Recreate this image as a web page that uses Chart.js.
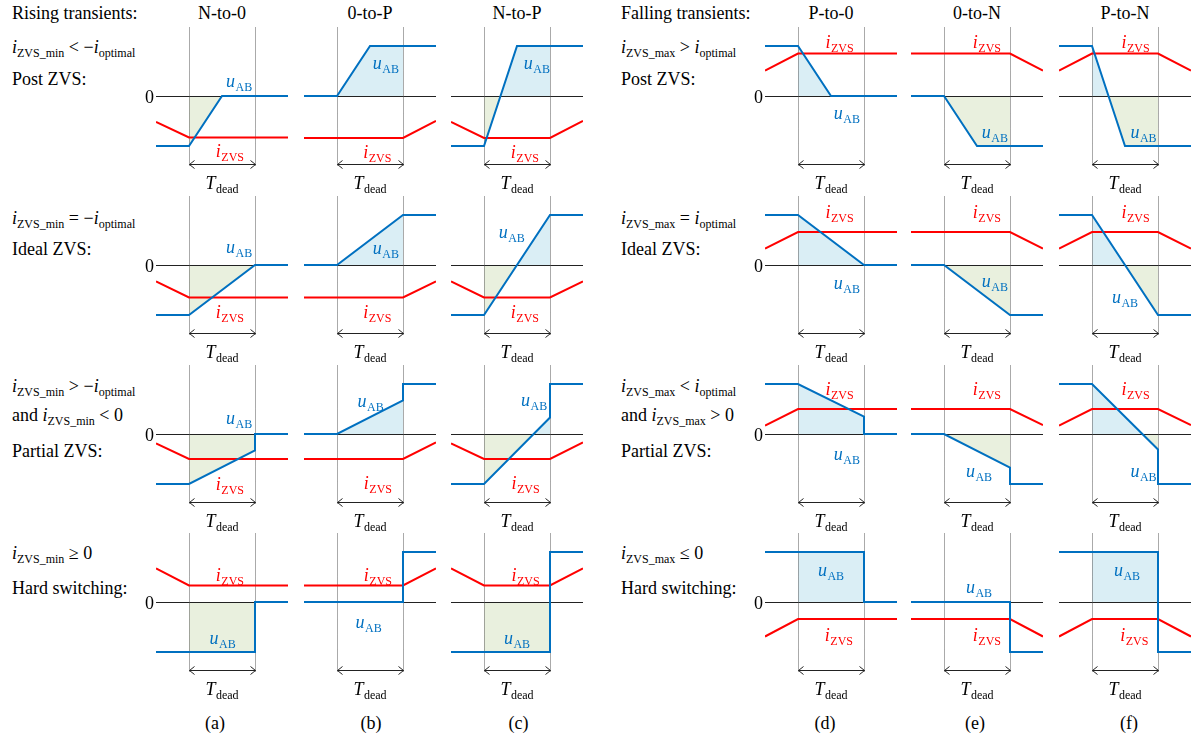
<!DOCTYPE html>
<html>
<head>
<meta charset="utf-8">
<script src="https://cdn.jsdelivr.net/npm/chart.js@4"></script>
<style>
  html, body { margin: 0; padding: 0; background: #fff; }
  #fig { position: relative; width: 1196px; height: 741px; overflow: hidden;
         font-family: 'Liberation Serif', 'Times New Roman', serif; color: #000; }
  .t { position: absolute; font-size: 18px; line-height: 18px; white-space: nowrap; }
  .t.c { transform: translateX(-50%); }
  .t sub { font-size: 12px; line-height: 0; vertical-align: -4px; }
  canvas { position: absolute; }
</style>
</head>
<body>
<div id="fig"></div>
<script>
// ---- labels ----
const transitions = ['N-to-0', '0-to-P', 'N-to-P', 'P-to-0', '0-to-N', 'P-to-N'];
const panelTags = ['(a)', '(b)', '(c)', '(d)', '(e)', '(f)'];
const groupTitles = ['Rising transients:', 'Falling transients:'];
const risingConditions = [
  ['<i>i</i><sub>ZVS_min</sub> &lt; −<i>i</i><sub>optimal</sub>', 'Post ZVS:'],
  ['<i>i</i><sub>ZVS_min</sub> = −<i>i</i><sub>optimal</sub>', 'Ideal ZVS:'],
  ['<i>i</i><sub>ZVS_min</sub> &gt; −<i>i</i><sub>optimal</sub>', 'and <i>i</i><sub>ZVS_min</sub> &lt; 0', 'Partial ZVS:'],
  ['<i>i</i><sub>ZVS_min</sub> ≥ 0', 'Hard switching:']
];
const fallingConditions = [
  ['<i>i</i><sub>ZVS_max</sub> &gt; <i>i</i><sub>optimal</sub>', 'Post ZVS:'],
  ['<i>i</i><sub>ZVS_max</sub> = <i>i</i><sub>optimal</sub>', 'Ideal ZVS:'],
  ['<i>i</i><sub>ZVS_max</sub> &lt; <i>i</i><sub>optimal</sub>', 'and <i>i</i><sub>ZVS_max</sub> &gt; 0', 'Partial ZVS:'],
  ['<i>i</i><sub>ZVS_max</sub> ≤ 0', 'Hard switching:']
];

// ---- waveforms: [t, value] breakpoints ----
// t: time in dead-time units (dead time spans 0..1), value: normalised to the DC level
// columns: N-to-0, 0-to-P, N-to-P, P-to-0, 0-to-N, P-to-N
const uPostZVS = [
  [[-0.5, -1], [0, -1], [0.5, 0], [1.5, 0]],
  [[-0.5, 0], [0, 0], [0.5, 1], [1.5, 1]],
  [[-0.5, -1], [0, -1], [0.5, 1], [1.5, 1]],
  [[-0.5, 1], [0, 1], [0.5, 0], [1.5, 0]],
  [[-0.5, 0], [0, 0], [0.5, -1], [1.5, -1]],
  [[-0.5, 1], [0, 1], [0.5, -1], [1.5, -1]]
];
const uIdealZVS = [
  [[-0.5, -1], [0, -1], [1, 0], [1.5, 0]],
  [[-0.5, 0], [0, 0], [1, 1], [1.5, 1]],
  [[-0.5, -1], [0, -1], [1, 1], [1.5, 1]],
  [[-0.5, 1], [0, 1], [1, 0], [1.5, 0]],
  [[-0.5, 0], [0, 0], [1, -1], [1.5, -1]],
  [[-0.5, 1], [0, 1], [1, -1], [1.5, -1]]
];
const uPartialZVS = [
  [[-0.5, -1], [0, -1], [1, -0.33], [1, 0], [1.5, 0]],
  [[-0.5, 0], [0, 0], [1, 0.67], [1, 1], [1.5, 1]],
  [[-0.5, -1], [0, -1], [1, 0.33], [1, 1], [1.5, 1]],
  [[-0.5, 1], [0, 1], [1, 0.35], [1, 0], [1.5, 0]],
  [[-0.5, 0], [0, 0], [1, -0.67], [1, -1], [1.5, -1]],
  [[-0.5, 1], [0, 1], [1, -0.31], [1, -1], [1.5, -1]]
];
const uHardSwitching = [
  [[-0.5, -1], [1, -1], [1, 0], [1.5, 0]],
  [[-0.5, 0], [1, 0], [1, 1], [1.5, 1]],
  [[-0.5, -1], [1, -1], [1, 1], [1.5, 1]],
  [[-0.5, 1], [1, 1], [1, 0], [1.5, 0]],
  [[-0.5, 0], [1, 0], [1, -1], [1.5, -1]],
  [[-0.5, 1], [1, 1], [1, -1], [1.5, -1]]
];
const iPostZVS = [
  [[-0.5, -0.52], [0, -0.83], [1.5, -0.83]],
  [[-0.5, -0.84], [1, -0.84], [1.5, -0.5]],
  [[-0.5, -0.52], [0, -0.84], [1, -0.84], [1.5, -0.5]],
  [[-0.5, 0.51], [0, 0.85], [1.5, 0.85]],
  [[-0.5, 0.85], [1, 0.85], [1.5, 0.51]],
  [[-0.5, 0.51], [0, 0.85], [1, 0.85], [1.5, 0.51]]
];
const iIdealZVS = [
  [[-0.5, -0.33], [0, -0.65], [1.5, -0.65]],
  [[-0.5, -0.65], [1, -0.65], [1.5, -0.33]],
  [[-0.5, -0.33], [0, -0.65], [1, -0.65], [1.5, -0.33]],
  [[-0.5, 0.33], [0, 0.66], [1.5, 0.66]],
  [[-0.5, 0.66], [1, 0.66], [1.5, 0.33]],
  [[-0.5, 0.33], [0, 0.66], [1, 0.66], [1.5, 0.33]]
];
const iPartialZVS = [
  [[-0.5, -0.19], [0, -0.5], [1.5, -0.5]],
  [[-0.5, -0.5], [1, -0.5], [1.5, -0.17]],
  [[-0.5, -0.19], [0, -0.5], [1, -0.5], [1.5, -0.17]],
  [[-0.5, 0.17], [0, 0.5], [1.5, 0.5]],
  [[-0.5, 0.5], [1, 0.5], [1.5, 0.18]],
  [[-0.5, 0.17], [0, 0.5], [1, 0.5], [1.5, 0.18]]
];
const iHardSwitching = [
  [[-0.5, 0.67], [0, 0.33], [1.5, 0.33]],
  [[-0.5, 0.33], [1, 0.33], [1.5, 0.67]],
  [[-0.5, 0.67], [0, 0.33], [1, 0.33], [1.5, 0.67]],
  [[-0.5, -0.69], [0, -0.34], [1.5, -0.34]],
  [[-0.5, -0.34], [1, -0.34], [1.5, -0.69]],
  [[-0.5, -0.69], [0, -0.34], [1, -0.34], [1.5, -0.69]]
];
const uRows = [uPostZVS, uIdealZVS, uPartialZVS, uHardSwitching];
const iRows = [iPostZVS, iIdealZVS, iPartialZVS, iHardSwitching];

// ---- layout ----
const deadStartPx = [189, 337, 484, 798, 944, 1092];
const zeroLinePx = [96, 265, 434, 602];
const leftTextPx = [12, 621];
const condLinePx = [[46.7, 79], [217.7, 248.8], [386.4, 414.7, 450.5], [553, 587.8]];
const tagCenterPx = [215, 371, 518.5, 825, 975, 1129];
// where the u_AB / i_ZVS names sit in each panel, in [t, value] units
const uNameAt = [
  [[0.76, 0.25], [0.74, 0.6], [0.8, 0.6], [0.74, -0.4], [0.77, -0.77], [0.78, -0.77]],
  [[0.76, 0.3], [0.74, 0.28], [0.42, 0.6], [0.74, -0.42], [0.77, -0.38], [0.5, -0.7]],
  [[0.76, 0.26], [0.51, 0.61], [0.76, 0.62], [0.74, -0.45], [0.53, -0.79], [0.78, -0.79]],
  [[0.51, -0.77], [0.48, -0.45], [0.5, -0.77], [0.5, 0.58], [0.53, 0.25], [0.53, 0.58]]
];
const iNameAt = [
  [[0.62, -1.15], [0.61, -1.17], [0.62, -1.17], [0.63, 1.03], [0.65, 1.03], [0.66, 1.03]],
  [[0.62, -1.0], [0.61, -1.0], [0.62, -1.0], [0.63, 1.0], [0.65, 1.0], [0.66, 1.0]],
  [[0.62, -1.05], [0.62, -1.04], [0.63, -1.04], [0.63, 0.85], [0.65, 0.85], [0.66, 0.85]],
  [[0.62, 0.48], [0.62, 0.49], [0.63, 0.49], [0.62, -0.72], [0.65, -0.72], [0.64, -0.72]]
];

const BLUE = 'rgb(0,112,192)';
const RED = 'rgb(255,0,0)';
const BLUE_FILL = 'rgb(218,238,245)';
const GREEN_FILL = 'rgb(233,240,222)';
const SERIF = '"Liberation Serif", "Times New Roman", serif';

const fig = document.getElementById('fig');

function addText(html, left, capCenter, centered) {
  const d = document.createElement('div');
  d.className = 't' + (centered ? ' c' : '');
  d.innerHTML = html;
  d.style.left = left + 'px';
  d.style.top = (capCenter - 9) + 'px';
  fig.appendChild(d);
}

// headings and condition text
addText(groupTitles[0], leftTextPx[0], 12.5, false);
addText(groupTitles[1], leftTextPx[1], 12.5, false);
transitions.forEach((name, c) => addText(name, deadStartPx[c] + 33, 13, true));
panelTags.forEach((tag, c) => addText(tag, tagCenterPx[c], 723, true));
[risingConditions, fallingConditions].forEach((group, g) => {
  group.forEach((lines, r) => {
    lines.forEach((html, k) => addText(html, leftTextPx[g], condLinePx[r][k], false));
  });
});

function toXY(pts) { return pts.map(p => ({ x: p[0], y: p[1] })); }

function valueAt(pts, t) {
  for (let k = 0; k < pts.length - 1; k++) {
    const a = pts[k], b = pts[k + 1];
    if (a[0] < b[0] && a[0] <= t && t <= b[0]) {
      return a[1] + (b[1] - a[1]) * (t - a[0]) / (b[0] - a[0]);
    }
  }
  return 0;
}

// u_AB restricted to the dead-time interval, used for the shaded area
function deadTimePart(pts) {
  const out = [[0, valueAt(pts, 0)]];
  pts.forEach(p => { if (p[0] > 0 && p[0] <= 1) out.push(p); });
  if (out[out.length - 1][0] < 1) out.push([1, valueAt(pts, 1)]);
  return out;
}

function drawName(ctx, main, sub, cx, cy, color) {
  ctx.save();
  ctx.fillStyle = color;
  ctx.textAlign = 'left';
  ctx.textBaseline = 'alphabetic';
  ctx.font = 'italic 18px ' + SERIF;
  const w1 = ctx.measureText(main).width;
  ctx.font = '12px ' + SERIF;
  const w2 = ctx.measureText(sub).width;
  const gap = 0.5;
  const x = cx - (w1 + gap + w2) / 2;
  ctx.font = 'italic 18px ' + SERIF;
  ctx.fillText(main, x, cy + 3);
  ctx.font = '12px ' + SERIF;
  ctx.fillText(sub, x + w1 + gap, cy + 7);
  ctx.restore();
}

function panelPlugin(r, c) {
  return {
    id: 'panelGuides',
    afterDatasetDraw(chart, args) {
      if (args.index !== 2) return;
      const { ctx, chartArea } = chart;
      const xs = chart.scales.x, ys = chart.scales.y;
      const x0 = Math.round(xs.getPixelForValue(0)) + 0.5;
      const x1 = Math.round(xs.getPixelForValue(1)) + 0.5;
      const y0 = Math.round(ys.getPixelForValue(0)) + 0.5;
      const yTop = ys.getPixelForValue(1.37);
      const yBot = ys.getPixelForValue(-1.4);
      const yArr = Math.round(ys.getPixelForValue(-1.35)) + 0.5;
      ctx.save();
      // zero reference
      ctx.strokeStyle = '#222';
      ctx.lineWidth = 1;
      ctx.beginPath();
      ctx.moveTo(chartArea.left, y0);
      ctx.lineTo(chartArea.right, y0);
      ctx.stroke();
      // dead-time borders
      ctx.strokeStyle = '#555';
      ctx.setLineDash([1, 1]);
      ctx.beginPath();
      ctx.moveTo(x0, yTop); ctx.lineTo(x0, yBot);
      ctx.moveTo(x1, yTop); ctx.lineTo(x1, yBot);
      ctx.stroke();
      ctx.setLineDash([]);
      // double arrow marking T_dead
      ctx.strokeStyle = '#222';
      ctx.beginPath();
      ctx.moveTo(x0, yArr); ctx.lineTo(x1, yArr);
      ctx.moveTo(x0 + 5, yArr - 4); ctx.lineTo(x0, yArr); ctx.lineTo(x0 + 5, yArr + 4);
      ctx.moveTo(x1 - 5, yArr - 4); ctx.lineTo(x1, yArr); ctx.lineTo(x1 - 5, yArr + 4);
      ctx.stroke();
      ctx.restore();
    },
    afterDraw(chart) {
      const { ctx, chartArea } = chart;
      const xs = chart.scales.x, ys = chart.scales.y;
      const y0 = ys.getPixelForValue(0);
      if (c === 0 || c === 3) {
        ctx.save();
        ctx.fillStyle = '#000';
        ctx.font = '18px ' + SERIF;
        ctx.textAlign = 'right';
        ctx.textBaseline = 'alphabetic';
        ctx.fillText('0', chartArea.left - 2, y0 + 6.5);
        ctx.restore();
      }
      const un = uNameAt[r][c], inn = iNameAt[r][c];
      drawName(ctx, 'u', 'AB', xs.getPixelForValue(un[0]), ys.getPixelForValue(un[1]), BLUE);
      drawName(ctx, 'i', 'ZVS', xs.getPixelForValue(inn[0]), ys.getPixelForValue(inn[1]), RED);
      drawName(ctx, 'T', 'dead', xs.getPixelForValue(0.5), y0 + 90, '#000');
    }
  };
}

for (let r = 0; r < 4; r++) {
  for (let c = 0; c < 6; c++) {
    const cv = document.createElement('canvas');
    cv.width = 180;
    cv.height = 180;
    cv.style.width = '180px';
    cv.style.height = '180px';
    cv.style.left = (deadStartPx[c] - 57) + 'px';
    cv.style.top = (zeroLinePx[r] - 75) + 'px';
    fig.appendChild(cv);
    const u = uRows[r][c], i = iRows[r][c];
    new Chart(cv, {
      type: 'line',
      data: {
        datasets: [
          { label: 'u_AB', data: toXY(u), borderColor: BLUE, borderWidth: 2, pointRadius: 0, fill: false, tension: 0 },
          { label: 'i_ZVS', data: toXY(i), borderColor: RED, borderWidth: 2, pointRadius: 0, fill: false, tension: 0 },
          { label: 'area', data: toXY(deadTimePart(u)), borderColor: 'rgba(0,0,0,0)', borderWidth: 0, pointRadius: 0,
            tension: 0, fill: { target: 'origin', above: BLUE_FILL, below: GREEN_FILL } }
        ]
      },
      options: {
        responsive: false,
        animation: false,
        events: [],
        layout: { padding: { left: 24, right: 24, top: 0, bottom: 0 } },
        scales: {
          x: { type: 'linear', min: -0.5, max: 1.5, display: false },
          y: { type: 'linear', min: -2.1, max: 1.5, display: false }
        },
        plugins: { legend: { display: false }, tooltip: { enabled: false } }
      },
      plugins: [panelPlugin(r, c)]
    });
  }
}
</script>
</body>
</html>
